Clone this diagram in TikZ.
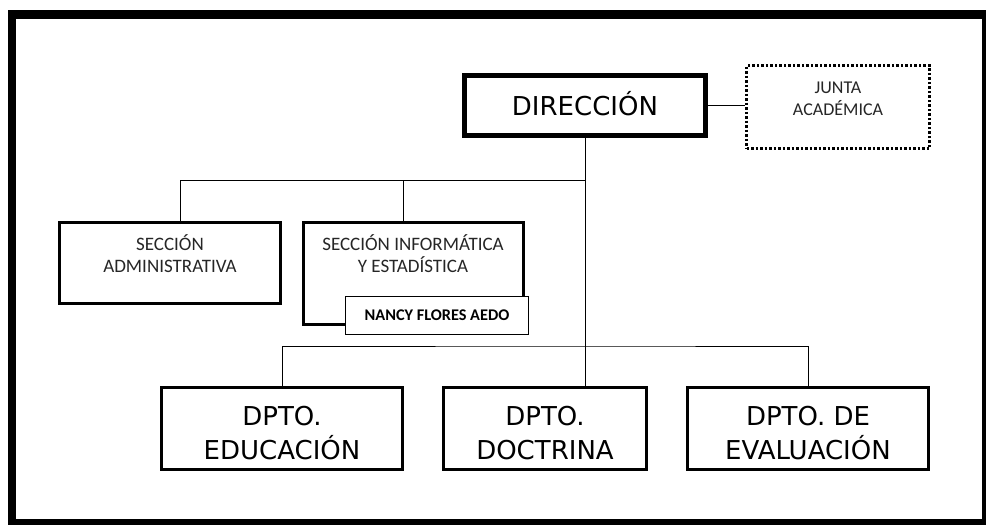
\documentclass[tikz,border=0pt]{standalone}
\usepackage{fontspec}
\newfontfamily\comicfont{DejaVu Sans}
\newfontfamily\calfont{Carlito}
\begin{document}
\begin{tikzpicture}[x=1pt,y=-1pt,
  bigbox/.style={draw=black,line width=3pt,fill=white,inner sep=0pt},
  dirbox/.style={draw=black,line width=5pt,fill=white,inner sep=0pt},
  juntabox/.style={draw=black,line width=2.5pt,dotted,fill=white,inner sep=0pt},
  namebox/.style={draw=black,line width=0.9pt,fill=white,inner sep=0pt},
  comictext/.style={font=\comicfont\fontsize{26}{34}\selectfont,align=center,text=black},
  caltext/.style={font=\calfont\fontsize{19}{22}\selectfont,align=center,text=black!85},
  conn/.style={draw=black,line width=1pt}]
\useasboundingbox (0,0) rectangle (986,525);
% frame
\fill[black] (8,10) rectangle (986,525);
\fill[white] (16,19) rectangle (982,519);
% boxes
\node[dirbox,minimum width=241pt,minimum height=60pt] (dir) at (585,105.5) {};
\node[comictext] (dirt) at (585,104) {DIRECCIÓN};
\node[juntabox,minimum width=183pt,minimum height=83pt] (junta) at (838,107) {};
\node[caltext,font=\calfont\fontsize{18}{22}\selectfont] (juntat) at (838,99) {JUNTA\\ACADÉMICA};
\node[bigbox,minimum width=221pt,minimum height=81pt] (secadm) at (170,263) {};
\node[caltext] (secadmt) at (170,254) {SECCIÓN\\ADMINISTRATIVA};
\node[bigbox,minimum width=220pt,minimum height=102pt] (secinf) at (413.5,273.5) {};
\node[caltext] (secinft) at (413,254) {SECCIÓN INFORMÁTICA\\Y ESTADÍSTICA};
\node[namebox,minimum width=183pt,minimum height=38pt,font=\calfont\bfseries\fontsize{16.3}{18}\selectfont] (nancy) at (437,315.5) {NANCY FLORES AEDO};
\node[bigbox,minimum width=241pt,minimum height=82pt] (edu) at (282,428.5) {};
\node[comictext] (edut) at (282,433) {DPTO.\\EDUCACIÓN};
\node[bigbox,minimum width=203pt,minimum height=82pt] (doc) at (545,428.5) {};
\node[comictext] (doct) at (545,433) {DPTO.\\DOCTRINA};
\node[bigbox,minimum width=241pt,minimum height=82pt] (eval) at (808,428.5) {};
\node[comictext] (evalt) at (808,433) {DPTO. DE\\EVALUACIÓN};
% connectors
\coordinate (b1) at (585,180);
\coordinate (b2) at (585,346);
\draw[conn] (dir.east) -- (dir.east -| junta.west);
\draw[conn] (dir.south) -- (dir.south |- doc.north);
\draw[conn] (b1) -| ([xshift=10pt]secadm.north);
\draw[conn] ([xshift=-10.5pt]secinf.north) -- ([xshift=-10.5pt]secinf.north |- b1);
\draw[conn] (edu.north) |- (b2) -| (eval.north);
\end{tikzpicture}
\end{document}
